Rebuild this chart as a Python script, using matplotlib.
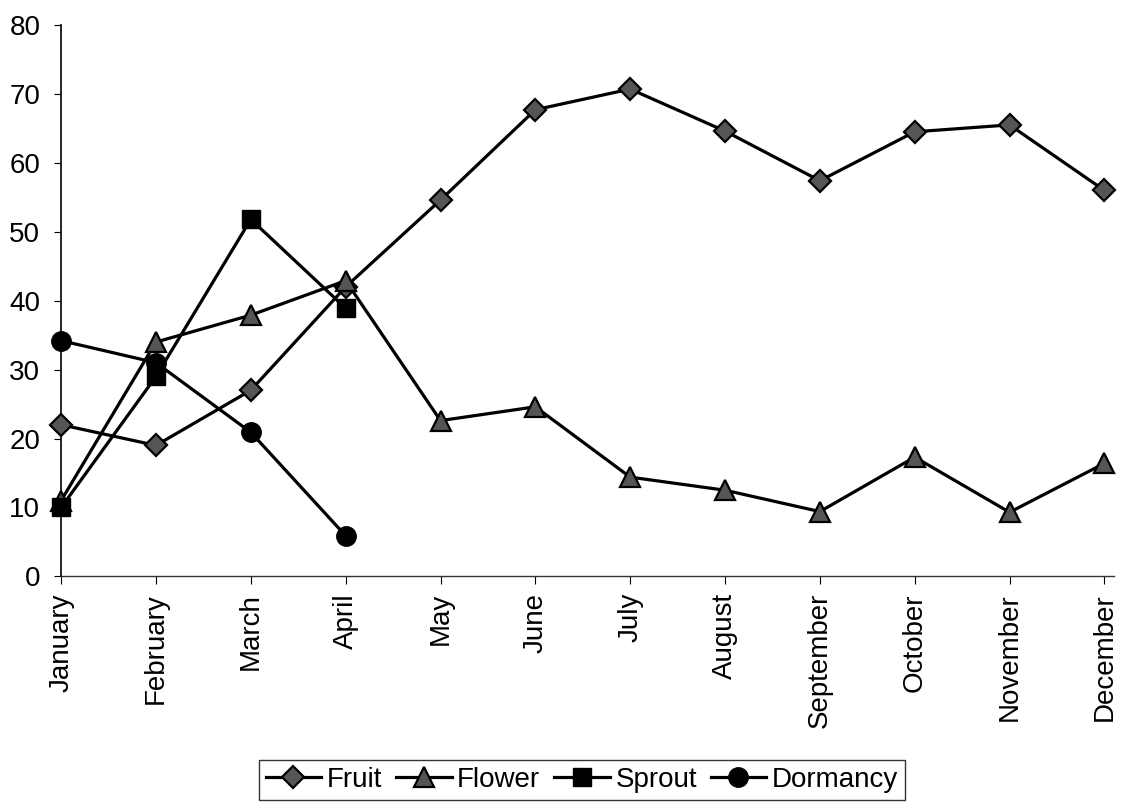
import matplotlib.pyplot as plt

plt.rcParams['font.family'] = ['Liberation Sans', 'DejaVu Sans']

months = ['January', 'February', 'March', 'April', 'May', 'June', 'July',
          'August', 'September', 'October', 'November', 'December']
fruit = [22, 19, 27, 42, 54.6, 67.7, 70.7, 64.6, 57.4, 64.5, 65.5, 56]
flower = [11, 34, 37.9, 42.9, 22.6, 24.6, 14.4, 12.5, 9.4, 17.3, 9.3, 16.4]
sprout = [10, 29, 51.8, 38.9]
dormancy = [34.2, 31, 20.9, 5.9]

fig = plt.figure(figsize=(11.32, 8.05), dpi=100)
ax = fig.add_axes([0.054, 0.284, 0.93, 0.685])

x = list(range(len(months)))
ax.plot(x, fruit, color='black', lw=2.3, marker='D', ms=11, mfc='#555555',
        mec='black', mew=1.6, label='Fruit', clip_on=False, zorder=3)
ax.plot(x, flower, color='black', lw=2.3, marker='^', ms=14, mfc='#555555',
        mec='black', mew=1.6, label='Flower', clip_on=False, zorder=3)
ax.plot(x[:4], sprout, color='black', lw=2.3, marker='s', ms=13, mfc='black',
        mec='black', label='Sprout', clip_on=False, zorder=4)
ax.plot(x[:4], dormancy, color='black', lw=2.3, marker='o', ms=14, mfc='black',
        mec='black', label='Dormancy', clip_on=False, zorder=4)

ax.set_xlim(0, 11.1)
ax.set_ylim(0, 80)
ax.set_yticks(range(0, 81, 10))
ax.set_xticks(x)
ax.set_xticklabels(months, rotation=90, fontsize=20)
ax.tick_params(axis='y', labelsize=20, direction='out', length=5, pad=10)
ax.tick_params(axis='x', direction='out', length=6, pad=6)
for s in ['top', 'right']:
    ax.spines[s].set_visible(False)
ax.spines['left'].set_linewidth(1.2)
ax.spines['bottom'].set_linewidth(1.0)
ax.spines['bottom'].set_color('#333333')

fig.legend(loc='center', bbox_to_anchor=(0.514, 0.031), ncol=4, fontsize=20,
           frameon=True, fancybox=False, edgecolor='black', handlelength=2.0,
           handletextpad=0.2, columnspacing=0.5, borderpad=0.25)

fig.savefig('out.png', dpi=100)
